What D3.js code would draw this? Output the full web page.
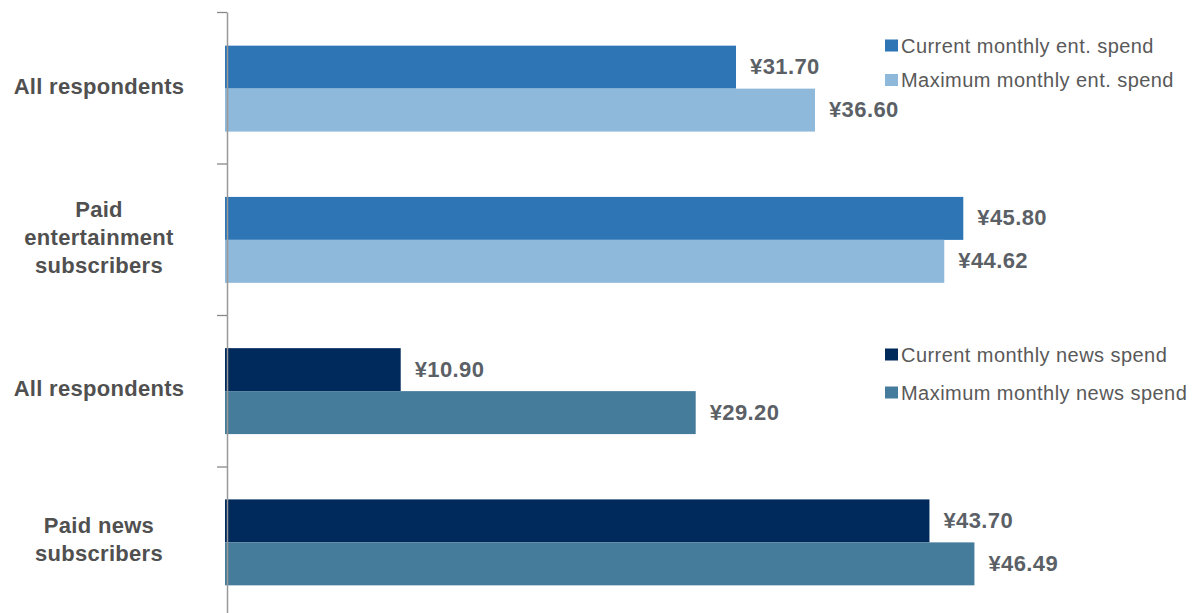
<!DOCTYPE html>
<html>
<head>
<meta charset="utf-8">
<script src="https://cdn.jsdelivr.net/npm/d3@7"></script>
<style>
  body { margin: 0; background: #fff; }
  svg { display: block; font-family: "Liberation Sans", Arial, sans-serif; }
</style>
</head>
<body>
<svg width="1195" height="613"></svg>
<script>
// Category labels (one entry per line) and values
var categoryLines = [
  ["All respondents"],
  ["Paid", "entertainment", "subscribers"],
  ["All respondents"],
  ["Paid news", "subscribers"]
];
var currentSpend = [31.70, 45.80, 10.90, 43.70];
var maxSpend = [36.60, 44.62, 29.20, 46.49];
var valueLabels = ["¥31.70", "¥36.60", "¥45.80", "¥44.62", "¥10.90", "¥29.20", "¥43.70", "¥46.49"];
var legendEnt = ["Current monthly ent. spend", "Maximum monthly ent. spend"];
var legendNews = ["Current monthly news spend", "Maximum monthly news spend"];
var entColors = ["#2e75b6", "#8fb9da"];
var newsColors = ["#002a5b", "#467c9b"];

var svg = d3.select("svg");

// Build rows: each category has two bars
var rows = [];
categoryLines.forEach(function(lines, i) {
  var colors = i < 2 ? entColors : newsColors;
  rows.push({cat: i, series: 0, value: currentSpend[i], color: colors[0], label: valueLabels[i * 2]});
  rows.push({cat: i, series: 1, value: maxSpend[i], color: colors[1], label: valueLabels[i * 2 + 1]});
});

var x = d3.scaleLinear().domain([0, 50]).range([225, 1031]);

var y = d3.scaleBand()
  .domain(d3.range(categoryLines.length))
  .range([13, 618])
  .padding(0);

var ySub = d3.scaleBand()
  .domain([0, 1])
  .range([0, y.bandwidth()])
  .paddingInner(0)
  .paddingOuter(0.76);

// Bars
svg.append("g").selectAll("rect")
  .data(rows)
  .enter().append("rect")
    .attr("x", x(0))
    .attr("y", function(d) { return y(d.cat) + ySub(d.series); })
    .attr("width", function(d) { return x(d.value) - x(0); })
    .attr("height", ySub.bandwidth())
    .attr("fill", function(d) { return d.color; });

// Axis with ticks at category boundaries
var yEdge = d3.scaleLinear().domain([0, categoryLines.length]).range([12, 618]);
var axis = svg.append("g")
  .attr("transform", "translate(227,0)")
  .call(d3.axisLeft(yEdge).tickValues(d3.range(categoryLines.length + 1)).tickFormat("").tickSize(10).tickSizeOuter(0));
axis.select(".domain").attr("stroke", "#999").attr("stroke-width", 1.5);
axis.selectAll(".tick line").attr("stroke", "#888").attr("stroke-width", 1.3);

// Value labels
svg.append("g").selectAll("text")
  .data(rows)
  .enter().append("text")
    .attr("x", function(d) { return x(d.value) + 14; })
    .attr("y", function(d) { return y(d.cat) + ySub(d.series) + ySub.bandwidth() / 2 - 1; })
    .attr("dy", "0.36em")
    .attr("fill", "#5b5f66")
    .style("font-size", "22px")
    .style("font-weight", "bold")
    .style("letter-spacing", "0.4px")
    .text(function(d) { return d.label; });

// Category labels
var catG = svg.append("g").selectAll("text")
  .data(categoryLines)
  .enter().append("text")
    .attr("text-anchor", "middle")
    .attr("fill", "#505050")
    .style("font-size", "22px")
    .style("font-weight", "bold")
    .style("letter-spacing", "0.3px");

catG.each(function(lines, i) {
  var cy = y(i) + y.bandwidth() / 2 - 3;
  var lh = 28;
  d3.select(this).selectAll("tspan")
    .data(lines)
    .enter().append("tspan")
      .attr("x", 99)
      .attr("y", function(l, j) { return cy + (j - (lines.length - 1) / 2) * lh; })
      .attr("dy", "0.36em")
      .text(function(l) { return l; });
});

// Legends
function drawLegend(names, colors, top, spacing) {
  var g = svg.append("g");
  names.forEach(function(name, i) {
    var yy = top + i * spacing;
    g.append("rect")
      .attr("x", 885)
      .attr("y", yy - 6)
      .attr("width", 13)
      .attr("height", 12)
      .attr("fill", colors[i]);
    g.append("text")
      .attr("x", 901)
      .attr("y", yy)
      .attr("dy", "0.36em")
      .attr("fill", "#595959")
      .style("font-size", "20px")
      .style("letter-spacing", "0.45px")
      .text(name);
  });
}
drawLegend(legendEnt, entColors, 45.5, 34.5);
drawLegend(legendNews, newsColors, 354.5, 38);
</script>
</body>
</html>
